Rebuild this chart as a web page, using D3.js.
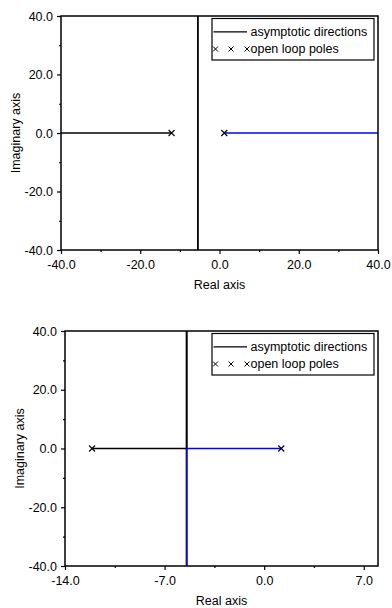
<!DOCTYPE html>
<html>
<head>
<meta charset="utf-8">
<script src="https://cdn.jsdelivr.net/npm/d3@7"></script>
<style>
  body { margin: 0; background: #fff; }
  svg { display: block; font-family: "Liberation Sans", Arial, sans-serif; }
</style>
</head>
<body>
<svg id="chart" width="392" height="608"></svg>
<script>
// open loop poles (real parts, imaginary part 0)
const poles = [-12.1, 1.2];
const asymptoteCenter = -5.45;

// top plot: wide view
const topXTicks = [-40, -20, 0, 20, 40];
const topXMinor = [-30, -10, 10, 30];
const topBlackBranch = [[-40, 0], [-12.1, 0]];
const topBlueBranch = [[1.2, 0], [40, 0]];

// bottom plot: zoomed view
const botXTicks = [-14, -7, 0, 7];
const botXMinor = [-10.5, -3.5, 3.5];
const botBlackBranch = [[-12.1, 0], [-5.45, 0], [-5.45, 40]];
const botBlueBranch = [[1.2, 0], [-5.45, 0], [-5.45, -40]];

const yTicks = [-40, -20, 0, 20, 40];
const yMinor = [-30, -10, 10, 30];
const legendLabels = ['asymptotic directions', 'open loop poles'];

const svg = d3.select('#chart');
// plain hyphen for negatives, like the original
const fmt = d => d.toFixed(1);

function drawPanel(p) {
  const x = d3.scaleLinear().domain(p.xDomain).range([p.left, p.right]);
  const y = d3.scaleLinear().domain([-40, 40]).range([p.bottom, p.top]);
  const g = svg.append('g');

  // asymptote (vertical line through centre)
  g.append('line')
    .attr('x1', x(asymptoteCenter)).attr('x2', x(asymptoteCenter))
    .attr('y1', y(40)).attr('y2', y(-40))
    .attr('stroke', '#000').attr('stroke-width', 1.8);

  const line = d3.line().x(d => x(d[0])).y(d => y(d[1]));
  g.append('path').datum(p.black).attr('d', line)
    .attr('fill', 'none').attr('stroke', '#000').attr('stroke-width', 1.5);
  g.append('path').datum(p.blue).attr('d', line)
    .attr('fill', 'none').attr('stroke', '#0000ff').attr('stroke-width', 1.5);

  // pole markers
  g.selectAll('.pole').data(poles).enter().append('path')
    .attr('class', 'pole')
    .attr('d', d => `M${x(d) - 3},${y(0) - 3}L${x(d) + 3},${y(0) + 3}M${x(d) - 3},${y(0) + 3}L${x(d) + 3},${y(0) - 3}`)
    .attr('stroke', '#000').attr('stroke-width', 1.1);

  // frame
  g.append('rect')
    .attr('x', p.left).attr('y', p.top)
    .attr('width', p.right - p.left).attr('height', p.bottom - p.top)
    .attr('fill', 'none').attr('stroke', '#000').attr('stroke-width', 1.5);

  // axes
  g.append('g').attr('transform', `translate(0,${p.bottom})`)
    .call(d3.axisBottom(x).tickValues(p.xTicks).tickFormat(fmt).tickSize(4).tickSizeOuter(0).tickPadding(6));
  g.append('g').attr('transform', `translate(0,${p.bottom})`)
    .call(d3.axisBottom(x).tickValues(p.xMinor).tickFormat('').tickSize(2).tickSizeOuter(0));
  g.append('g').attr('transform', `translate(${p.left},0)`)
    .call(d3.axisLeft(y).tickValues(yTicks).tickFormat(fmt).tickSize(4).tickSizeOuter(0).tickPadding(4));
  g.append('g').attr('transform', `translate(${p.left},0)`)
    .call(d3.axisLeft(y).tickValues(yMinor).tickFormat('').tickSize(2).tickSizeOuter(0));
  g.selectAll('.domain').remove();
  g.selectAll('.tick line').attr('stroke', '#000').attr('stroke-width', 1.2);
  g.selectAll('.tick text').attr('font-size', 12.5).attr('fill', '#000')
    .attr('font-family', '"Liberation Sans", Arial, sans-serif');

  // axis titles
  g.append('text')
    .attr('x', (p.left + p.right) / 2).attr('y', p.bottom + 39)
    .attr('text-anchor', 'middle').attr('font-size', 12.5).text('Real axis');
  g.append('text')
    .attr('transform', `translate(${p.left - 41.5},${(p.top + p.bottom) / 2}) rotate(-90)`)
    .attr('text-anchor', 'middle').attr('font-size', 12.5).text('Imaginary axis');

  // legend
  const lx = p.right - 166, ly = p.top + 2.5;
  const lg = g.append('g');
  lg.append('rect').attr('x', lx).attr('y', ly).attr('width', 162).attr('height', 41.5)
    .attr('fill', '#fff').attr('stroke', '#000').attr('stroke-width', 1.2);
  lg.append('line').attr('x1', lx + 1.5).attr('x2', lx + 35)
    .attr('y1', ly + 13.3).attr('y2', ly + 13.3)
    .attr('stroke', '#000').attr('stroke-width', 1.2);
  [3.5, 19, 35].forEach(dx => {
    const cx = lx + dx, cy = ly + 30.5;
    lg.append('path')
      .attr('d', `M${cx - 2.5},${cy - 2.5}L${cx + 2.5},${cy + 2.5}M${cx - 2.5},${cy + 2.5}L${cx + 2.5},${cy - 2.5}`)
      .attr('stroke', '#000').attr('stroke-width', 1);
  });
  lg.selectAll('.lt').data(legendLabels).enter().append('text')
    .attr('class', 'lt')
    .attr('x', lx + 38.5).attr('y', (d, i) => ly + 13.3 + i * 17.2)
    .attr('dy', '0.35em').attr('font-size', 12.5).text(d => d);
}

drawPanel({left: 61, right: 378, top: 16, bottom: 250, xDomain: [-40, 40],
  xTicks: topXTicks, xMinor: topXMinor, black: topBlackBranch, blue: topBlueBranch});
drawPanel({left: 65, right: 378, top: 331, bottom: 566, xDomain: [-14, 8],
  xTicks: botXTicks, xMinor: botXMinor, black: botBlackBranch, blue: botBlueBranch});
</script>
</body>
</html>
